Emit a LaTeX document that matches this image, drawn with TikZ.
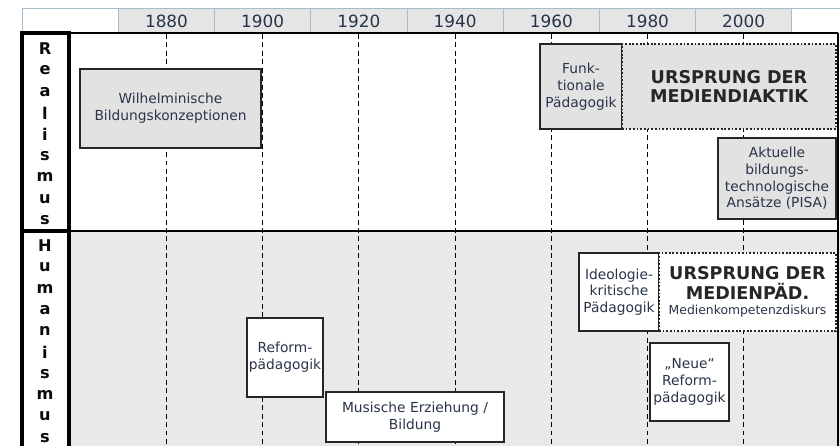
\documentclass[tikz,border=0pt]{standalone}
\usepackage{fontspec}
\setmainfont{DejaVu Sans}

\definecolor{txtgray}{RGB}{40,52,72}
\definecolor{boxgray}{RGB}{226,226,226}
\definecolor{rowgray}{RGB}{233,233,233}
\definecolor{headgray}{RGB}{229,229,229}
\definecolor{gridblue}{RGB}{168,188,200}

\begin{document}
\begin{tikzpicture}[x=0.025cm, y=-0.025cm,
    epoch/.style={draw=black!85, line width=0.9pt, inner sep=1pt, align=center,
      text=txtgray, font=\fontsize{9.8}{11.9}\selectfont},
    origin/.style={epoch, dash pattern=on 1.3pt off 1.3pt, line width=1.5pt, text=black!85,
      font=\fontsize{12.5}{14}\selectfont\bfseries},
    yearline/.style={dash pattern=on 3.5pt off 2.5pt, line width=0.7pt},
    letter/.style={inner sep=0pt, text=black!80!txtgray,
      font=\fontsize{11.5}{12}\selectfont\bfseries}]

\useasboundingbox (0,0) rectangle (840,446);

% --- Header with years ---
\fill[headgray] (118.4,8) rectangle (791.8,33);
\draw[gridblue, line width=0.5pt] (22,8) -- (840,8);
\foreach \k in {0,...,7} {
    \draw[gridblue, line width=0.5pt] (118.4+96.2*\k,8) -- (118.4+96.2*\k,33);
}
\draw[gridblue, line width=0.5pt] (22,8) -- (22,33);
\foreach \yr [count=\i] in {1880,1900,1920,1940,1960,1980,2000} {
    \node[text=txtgray, font=\fontsize{12}{14}\selectfont] (y\yr) at (166.5+96.2*\i-96.2,21) {\yr};
}

% --- Rows ---
\fill[rowgray] (69,231) rectangle (840,446);
\draw[line width=1pt] (22,33) -- (838,33);
\draw[line width=1pt] (69,231) -- (838,231);
\draw[line width=0.8pt] (838,33) -- (838,446);

% Year lines
\foreach \yr in {1880,1900,1920,1940,1960,1980,2000} {
    \draw[yearline] (y\yr |- 0,34) -- (y\yr |- 0,446);
}

% Row labels
\draw[line width=2.2pt] (22,33) rectangle (69,231);
\draw[line width=2.2pt] (22,231) rectangle (69,452);
\foreach \c [count=\i] in {R,e,a,l,i,s,m,u,s} {
    \node[letter] (real\i) at (45,49+21.4*\i-21.4) {\c};
}
\foreach \c [count=\i] in {H,u,m,a,n,i,s,m,u,s} {
    \node[letter] (hum\i) at (45,246+21.3*\i-21.3) {\c};
}

% --- Realismus ---
\node[epoch, fill=boxgray, minimum width=4.525cm, minimum height=1.975cm] (wilh) at (170.5,108.5)
    {Wilhelminische\\Bildungskonzeptionen};
\node[epoch, fill=boxgray, minimum width=2.05cm, minimum height=2.125cm] (funk) at (581,86.5)
    {Funk-\\tionale\\Pädagogik};
\node[origin, fill=boxgray, minimum width=5.35cm, minimum height=2.125cm] (didaktik) at (729,86.5)
    {URSPRUNG DER\\MEDIENDIAKTIK};
\node[epoch, fill=boxgray, minimum width=2.95cm, minimum height=2.025cm] (pisa) at (777,178.5)
    {Aktuelle\\bildungs-\\technologische\\Ansätze (PISA)};

% --- Humanismus ---
\node[epoch, fill=white, minimum width=2cm, minimum height=1.95cm] (ideo) at (619,292)
    {Ideologie-\\kritische\\Pädagogik};
\node[origin, fill=white, minimum width=4.425cm, minimum height=1.95cm] (medpaed) at (747.5,292)
    {URSPRUNG DER\\MEDIENPÄD.\\[-3pt]{\mdseries\color{txtgray}\fontsize{8.8}{10}\selectfont Medienkompetenzdiskurs}};
\node[epoch, fill=white, minimum width=1.975cm, minimum height=1.95cm] (neue) at (689.5,382)
    {„Neue“\\Reform-\\pädagogik};
\node[epoch, fill=white, minimum width=1.9cm, minimum height=1.975cm] (reform) at (285,357.5)
    {Reform-\\pädagogik};
\node[epoch, fill=white, minimum width=4.45cm, minimum height=1.25cm] (musisch) at (415,417)
    {Musische Erziehung /\\Bildung};

\end{tikzpicture}
\end{document}
